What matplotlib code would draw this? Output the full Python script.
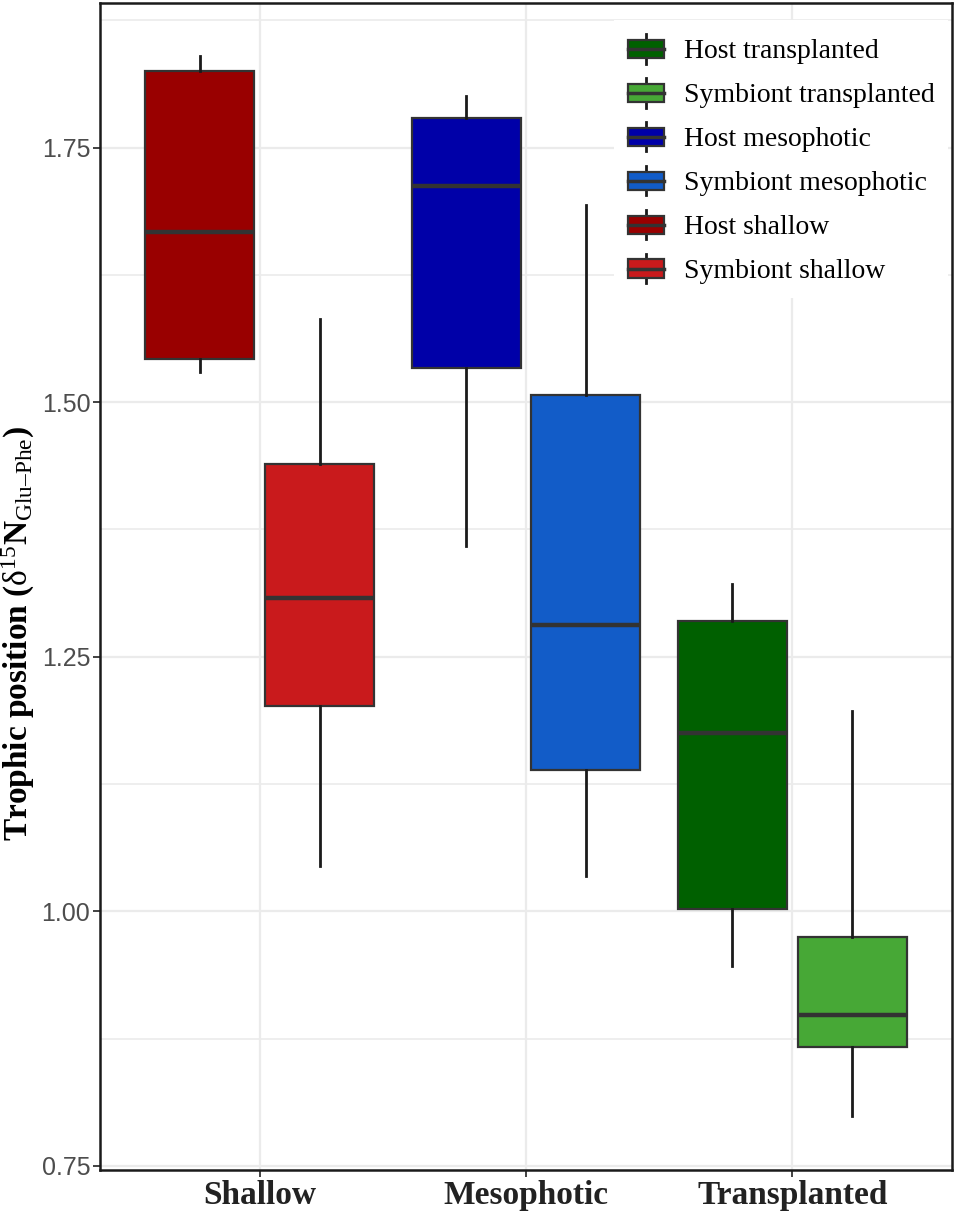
import matplotlib
matplotlib.use('Agg')
import matplotlib.pyplot as plt
from matplotlib import font_manager
from matplotlib.patches import Rectangle, Patch
from matplotlib.lines import Line2D
from matplotlib.legend_handler import HandlerBase
from matplotlib.ticker import MultipleLocator

# Datos
grupos = ['Shallow', 'Mesophotic', 'Transplanted']

host_whislo = [1.530, 1.359, 0.946]
host_q1 = [1.542, 1.534, 1.002]
host_med = [1.667, 1.712, 1.175]
host_q3 = [1.825, 1.779, 1.285]
host_whishi = [1.840, 1.801, 1.321]

sym_whislo = [1.045, 1.035, 0.799]
sym_q1 = [1.202, 1.139, 0.867]
sym_med = [1.308, 1.281, 0.898]
sym_q3 = [1.439, 1.507, 0.975]
sym_whishi = [1.582, 1.694, 1.197]

host_colores = ['#990000', '#0000A8', '#006000']
sym_colores = ['#C91A1C', '#125CC8', '#47A836']

etiquetas_leyenda = ['Host transplanted', 'Symbiont transplanted',
                     'Host mesophotic', 'Symbiont mesophotic',
                     'Host shallow', 'Symbiont shallow']
colores_leyenda = ['#006000', '#47A836', '#0000A8', '#125CC8', '#990000', '#C91A1C']

nombres = {f.name for f in font_manager.fontManager.ttflist}
fuente_ticks = 'Liberation Sans Narrow' if 'Liberation Sans Narrow' in nombres else 'Liberation Sans'

plt.rcParams['mathtext.fontset'] = 'custom'
plt.rcParams['mathtext.rm'] = 'Liberation Serif'
plt.rcParams['mathtext.it'] = 'Liberation Serif'
plt.rcParams['mathtext.bf'] = 'Liberation Serif:bold'


def stats(wl, q1, med, q3, wh):
    return [dict(whislo=a, q1=b, med=c, q3=d, whishi=e, fliers=[])
            for a, b, c, d, e in zip(wl, q1, med, q3, wh)]


class BoxHandler(HandlerBase):
    # dibuja una cajita de boxplot en la leyenda
    def create_artists(self, legend, orig_handle, xdescent, ydescent,
                       width, height, fontsize, trans):
        fc = orig_handle.get_facecolor()
        x0, y0 = -xdescent, -ydescent
        cx = x0 + width / 2
        bh = height * 0.62
        by = y0 + (height - bh) / 2
        w1 = Line2D([cx, cx], [y0, by], color='#1a1a1a', lw=2, transform=trans)
        w2 = Line2D([cx, cx], [by + bh, y0 + height], color='#1a1a1a', lw=2, transform=trans)
        rect = Rectangle((x0, by), width, bh, facecolor=fc, edgecolor='#333333',
                         lw=1.6, transform=trans)
        med = Line2D([x0, x0 + width], [by + bh / 2] * 2, color='#333333', lw=2.5,
                     transform=trans)
        return [w1, w2, rect, med]


fig = plt.figure(figsize=(9.55, 12.12), dpi=100)
ax = fig.add_axes([100 / 955, 42 / 1212, 852 / 955, 1167 / 1212])

pos = list(range(len(grupos)))
dx = 0.225
ancho = 0.41

estilo = dict(showcaps=False, showfliers=False, patch_artist=True, widths=ancho,
              boxprops=dict(edgecolor='#333333', linewidth=1.6),
              medianprops=dict(color='#333333', linewidth=3.2),
              whiskerprops=dict(color='#1a1a1a', linewidth=2))

bh = ax.bxp(stats(host_whislo, host_q1, host_med, host_q3, host_whishi),
            positions=[p - dx for p in pos], **estilo)
bs = ax.bxp(stats(sym_whislo, sym_q1, sym_med, sym_q3, sym_whishi),
            positions=[p + dx for p in pos], **estilo)
for caja, c in zip(bh['boxes'], host_colores):
    caja.set_facecolor(c)
for caja, c in zip(bs['boxes'], sym_colores):
    caja.set_facecolor(c)

ax.set_xlim(-0.6, 2.6)
ax.set_ylim(0.746, 1.892)
ax.set_xticks(pos)
ax.set_xticklabels(grupos, fontfamily='Liberation Serif', fontweight='bold',
                   fontsize=24, color='#222222')
ax.yaxis.set_major_locator(MultipleLocator(0.25))
ax.yaxis.set_minor_locator(MultipleLocator(0.125))
ax.set_yticks([0.75, 1.0, 1.25, 1.5, 1.75])
ax.set_yticklabels(['0.75', '1.00', '1.25', '1.50', '1.75'],
                   fontfamily=fuente_ticks, fontsize=18, color='#4D4D4D')
ax.tick_params(axis='both', which='major', direction='out', length=5, width=1.3,
               color='#333333', pad=2)
ax.tick_params(axis='y', which='minor', length=0)

ax.set_axisbelow(True)
ax.grid(True, which='major', color='#EBEBEB', linewidth=1.6)
ax.grid(True, which='minor', axis='y', color='#EBEBEB', linewidth=1.2)
for s in ax.spines.values():
    s.set_color('#1a1a1a')
    s.set_linewidth(1.8)

ax.set_ylabel(r'Trophic position ($\mathrm{\delta}^{15}$N$_{\mathrm{Glu–Phe}}$)',
              fontfamily='Liberation Serif', fontweight='bold', fontsize=24)
ax.yaxis.set_label_coords(-0.074, 0.46)

handles = [Patch(facecolor=c) for c in colores_leyenda]
leg = ax.legend(handles, etiquetas_leyenda, handler_map={Patch: BoxHandler()},
                loc='upper right', bbox_to_anchor=(1.012, 0.997),
                prop=dict(family='Liberation Serif', size=20),
                handlelength=1.3, handleheight=1.25, labelspacing=0.5,
                handletextpad=0.7, borderpad=0.5, frameon=True,
                fancybox=False, framealpha=1, facecolor='white', edgecolor='none')

fig.savefig('out.png', dpi=100)
